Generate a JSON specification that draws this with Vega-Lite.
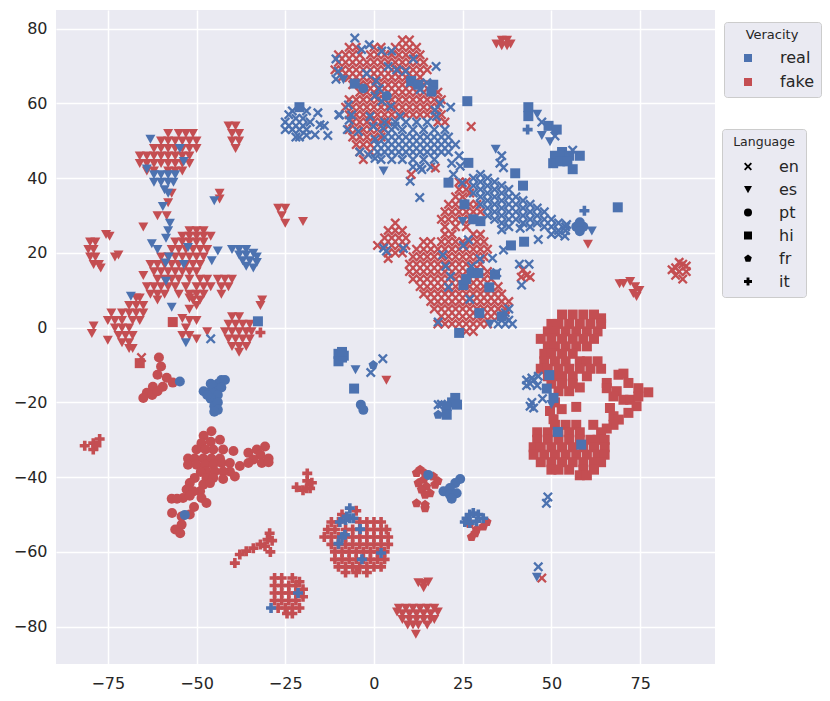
{"$schema":"https://vega.github.io/schema/vega-lite/v6.json","width":659,"height":654,"autosize":{"type":"none"},"padding":{"left":56,"top":10,"right":115,"bottom":37},"background":"white","config":{"font":"DejaVu Sans","view":{"stroke":null,"fill":"#eaeaf2"}},
"data":{"values":[
{"x":-7,"y":75,"v":"fake","l":"en"},{"x":-5,"y":75,"v":"fake","l":"en"},{"x":0,"y":75,"v":"fake","l":"en"},{"x":2,"y":75,"v":"fake","l":"en"},{"x":6,"y":75,"v":"fake","l":"en"},{"x":8,"y":77,"v":"fake","l":"en"},{"x":10,"y":77,"v":"fake","l":"en"},{"x":8,"y":75,"v":"fake","l":"en"},{"x":10,"y":75,"v":"fake","l":"en"},{"x":12,"y":75,"v":"fake","l":"en"},
{"x":-10,"y":73,"v":"fake","l":"en"},{"x":-8,"y":73,"v":"fake","l":"en"},{"x":-6,"y":73,"v":"fake","l":"en"},{"x":-4,"y":73,"v":"fake","l":"en"},{"x":-1,"y":73,"v":"fake","l":"en"},{"x":1,"y":73,"v":"fake","l":"en"},{"x":3,"y":73,"v":"fake","l":"en"},{"x":5,"y":73,"v":"fake","l":"en"},{"x":7,"y":73,"v":"fake","l":"en"},{"x":9,"y":73,"v":"fake","l":"en"},{"x":11,"y":73,"v":"fake","l":"en"},{"x":13,"y":73,"v":"fake","l":"en"},
{"x":-10,"y":71,"v":"fake","l":"en"},{"x":-8,"y":71,"v":"fake","l":"en"},{"x":-6,"y":71,"v":"fake","l":"en"},{"x":-4,"y":71,"v":"fake","l":"en"},{"x":-2,"y":71,"v":"fake","l":"en"},{"x":0,"y":71,"v":"fake","l":"en"},{"x":2,"y":71,"v":"fake","l":"en"},{"x":4,"y":71,"v":"fake","l":"en"},{"x":6,"y":71,"v":"fake","l":"en"},{"x":8,"y":71,"v":"fake","l":"en"},{"x":10,"y":71,"v":"fake","l":"en"},{"x":12,"y":71,"v":"fake","l":"en"},{"x":14,"y":71,"v":"fake","l":"en"},
{"x":-11,"y":69,"v":"fake","l":"en"},{"x":-9,"y":69,"v":"fake","l":"en"},{"x":-7,"y":69,"v":"fake","l":"en"},{"x":-5,"y":69,"v":"fake","l":"en"},{"x":-3,"y":69,"v":"fake","l":"en"},{"x":-1,"y":69,"v":"fake","l":"en"},{"x":1,"y":69,"v":"fake","l":"en"},{"x":3,"y":69,"v":"fake","l":"en"},{"x":5,"y":69,"v":"fake","l":"en"},{"x":7,"y":69,"v":"fake","l":"en"},{"x":9,"y":69,"v":"fake","l":"en"},{"x":11,"y":69,"v":"fake","l":"en"},{"x":13,"y":69,"v":"fake","l":"en"},{"x":15,"y":69,"v":"fake","l":"en"},
{"x":-9,"y":67,"v":"fake","l":"en"},{"x":-7,"y":67,"v":"fake","l":"en"},{"x":-5,"y":67,"v":"fake","l":"en"},{"x":-3,"y":67,"v":"fake","l":"en"},{"x":-1,"y":67,"v":"fake","l":"en"},{"x":1,"y":67,"v":"fake","l":"en"},{"x":3,"y":67,"v":"fake","l":"en"},{"x":5,"y":67,"v":"fake","l":"en"},{"x":7,"y":67,"v":"fake","l":"en"},{"x":9,"y":67,"v":"fake","l":"en"},{"x":11,"y":67,"v":"fake","l":"en"},{"x":13,"y":67,"v":"fake","l":"en"},
{"x":-6,"y":65,"v":"fake","l":"en"},{"x":-4,"y":65,"v":"fake","l":"en"},{"x":-2,"y":65,"v":"fake","l":"en"},{"x":0,"y":65,"v":"fake","l":"en"},{"x":2,"y":65,"v":"fake","l":"en"},{"x":4,"y":65,"v":"fake","l":"en"},{"x":6,"y":65,"v":"fake","l":"en"},{"x":8,"y":65,"v":"fake","l":"en"},{"x":10,"y":65,"v":"fake","l":"en"},{"x":12,"y":65,"v":"fake","l":"en"},{"x":14,"y":65,"v":"fake","l":"en"},
{"x":-4,"y":63,"v":"fake","l":"en"},{"x":-2,"y":63,"v":"fake","l":"en"},{"x":0,"y":63,"v":"fake","l":"en"},{"x":2,"y":63,"v":"fake","l":"en"},{"x":4,"y":63,"v":"fake","l":"en"},{"x":6,"y":63,"v":"fake","l":"en"},{"x":8,"y":63,"v":"fake","l":"en"},{"x":10,"y":63,"v":"fake","l":"en"},{"x":12,"y":63,"v":"fake","l":"en"},{"x":14,"y":63,"v":"fake","l":"en"},{"x":16,"y":63,"v":"fake","l":"en"},{"x":18,"y":63,"v":"fake","l":"en"},
{"x":-7,"y":61,"v":"fake","l":"en"},{"x":-5,"y":61,"v":"fake","l":"en"},{"x":-3,"y":61,"v":"fake","l":"en"},{"x":-1,"y":61,"v":"fake","l":"en"},{"x":1,"y":61,"v":"fake","l":"en"},{"x":3,"y":61,"v":"fake","l":"en"},{"x":5,"y":61,"v":"fake","l":"en"},{"x":7,"y":61,"v":"fake","l":"en"},{"x":9,"y":61,"v":"fake","l":"en"},{"x":11,"y":61,"v":"fake","l":"en"},{"x":13,"y":61,"v":"fake","l":"en"},{"x":15,"y":61,"v":"fake","l":"en"},{"x":17,"y":61,"v":"fake","l":"en"},{"x":19,"y":61,"v":"fake","l":"en"},
{"x":-8,"y":59,"v":"fake","l":"en"},{"x":-6,"y":59,"v":"fake","l":"en"},{"x":-4,"y":59,"v":"fake","l":"en"},{"x":-2,"y":59,"v":"fake","l":"en"},{"x":0,"y":59,"v":"fake","l":"en"},{"x":2,"y":59,"v":"fake","l":"en"},{"x":4,"y":59,"v":"fake","l":"en"},{"x":6,"y":59,"v":"fake","l":"en"},{"x":8,"y":59,"v":"fake","l":"en"},{"x":10,"y":59,"v":"fake","l":"en"},{"x":12,"y":59,"v":"fake","l":"en"},{"x":14,"y":59,"v":"fake","l":"en"},{"x":16,"y":59,"v":"fake","l":"en"},{"x":18,"y":59,"v":"fake","l":"en"},
{"x":-7,"y":57,"v":"fake","l":"en"},{"x":-5,"y":57,"v":"fake","l":"en"},{"x":-3,"y":57,"v":"fake","l":"en"},{"x":-1,"y":57,"v":"fake","l":"en"},{"x":1,"y":57,"v":"fake","l":"en"},{"x":3,"y":57,"v":"fake","l":"en"},{"x":5,"y":57,"v":"fake","l":"en"},{"x":7,"y":57,"v":"fake","l":"en"},{"x":9,"y":57,"v":"fake","l":"en"},{"x":11,"y":57,"v":"fake","l":"en"},{"x":13,"y":57,"v":"fake","l":"en"},{"x":15,"y":57,"v":"fake","l":"en"},{"x":17,"y":57,"v":"fake","l":"en"},{"x":19,"y":57,"v":"fake","l":"en"},
{"x":-6,"y":55,"v":"fake","l":"en"},{"x":-4,"y":55,"v":"fake","l":"en"},{"x":-2,"y":55,"v":"fake","l":"en"},{"x":0,"y":55,"v":"fake","l":"en"},{"x":2,"y":55,"v":"fake","l":"en"},{"x":4,"y":55,"v":"fake","l":"en"},{"x":18,"y":55,"v":"fake","l":"en"},{"x":20,"y":55,"v":"fake","l":"en"},
{"x":-7,"y":53,"v":"fake","l":"en"},{"x":-5,"y":53,"v":"fake","l":"en"},{"x":-3,"y":53,"v":"fake","l":"en"},{"x":-1,"y":53,"v":"fake","l":"en"},{"x":1,"y":53,"v":"fake","l":"en"},{"x":3,"y":53,"v":"fake","l":"en"},
{"x":-6,"y":51,"v":"fake","l":"en"},{"x":-4,"y":51,"v":"fake","l":"en"},{"x":-2,"y":51,"v":"fake","l":"en"},{"x":0,"y":51,"v":"fake","l":"en"},{"x":2,"y":51,"v":"fake","l":"en"},
{"x":-5,"y":49,"v":"fake","l":"en"},{"x":-3,"y":49,"v":"fake","l":"en"},{"x":-1,"y":49,"v":"fake","l":"en"},{"x":-4,"y":47,"v":"fake","l":"en"},{"x":-1,"y":47,"v":"fake","l":"en"},{"x":-3,"y":45,"v":"fake","l":"en"},{"x":27.4,"y":53.8,"v":"fake","l":"en"},
{"x":24,"y":39,"v":"fake","l":"en"},{"x":26,"y":39,"v":"fake","l":"en"},{"x":24,"y":37,"v":"fake","l":"en"},{"x":26,"y":37,"v":"fake","l":"en"},{"x":27,"y":36,"v":"fake","l":"en"},{"x":23,"y":35,"v":"fake","l":"en"},{"x":25,"y":35,"v":"fake","l":"en"},{"x":21,"y":33,"v":"fake","l":"en"},{"x":23,"y":33,"v":"fake","l":"en"},{"x":25,"y":33,"v":"fake","l":"en"},{"x":27,"y":33,"v":"fake","l":"en"},{"x":29,"y":33,"v":"fake","l":"en"},{"x":20,"y":31,"v":"fake","l":"en"},{"x":22,"y":31,"v":"fake","l":"en"},{"x":24,"y":31,"v":"fake","l":"en"},{"x":26,"y":31,"v":"fake","l":"en"},{"x":28,"y":31,"v":"fake","l":"en"},{"x":30,"y":31,"v":"fake","l":"en"},{"x":19,"y":29,"v":"fake","l":"en"},{"x":21,"y":29,"v":"fake","l":"en"},{"x":23,"y":29,"v":"fake","l":"en"},{"x":25,"y":29,"v":"fake","l":"en"},{"x":27,"y":29,"v":"fake","l":"en"},{"x":20,"y":27,"v":"fake","l":"en"},{"x":23,"y":27,"v":"fake","l":"en"},{"x":26,"y":27,"v":"fake","l":"en"},
{"x":6,"y":28,"v":"fake","l":"en"},{"x":4,"y":26,"v":"fake","l":"en"},{"x":6,"y":26,"v":"fake","l":"en"},{"x":8,"y":26,"v":"fake","l":"en"},{"x":3,"y":24,"v":"fake","l":"en"},{"x":5,"y":24,"v":"fake","l":"en"},{"x":7,"y":24,"v":"fake","l":"en"},{"x":9,"y":24,"v":"fake","l":"en"},{"x":1,"y":22,"v":"fake","l":"en"},{"x":3,"y":22,"v":"fake","l":"en"},{"x":5,"y":22,"v":"fake","l":"en"},{"x":7,"y":22,"v":"fake","l":"en"},{"x":9,"y":22,"v":"fake","l":"en"},{"x":4,"y":20,"v":"fake","l":"en"},{"x":6,"y":20,"v":"fake","l":"en"},{"x":8,"y":20,"v":"fake","l":"en"},{"x":4,"y":18.5,"v":"fake","l":"en"},
{"x":20,"y":25,"v":"fake","l":"en"},{"x":22,"y":25,"v":"fake","l":"en"},{"x":28,"y":25,"v":"fake","l":"en"},{"x":30,"y":25,"v":"fake","l":"en"},{"x":14,"y":23,"v":"fake","l":"en"},{"x":16,"y":23,"v":"fake","l":"en"},{"x":19,"y":23,"v":"fake","l":"en"},{"x":21,"y":23,"v":"fake","l":"en"},{"x":23,"y":23,"v":"fake","l":"en"},{"x":25,"y":23,"v":"fake","l":"en"},{"x":27,"y":23,"v":"fake","l":"en"},{"x":29,"y":23,"v":"fake","l":"en"},{"x":31,"y":23,"v":"fake","l":"en"},
{"x":12,"y":21,"v":"fake","l":"en"},{"x":14,"y":21,"v":"fake","l":"en"},{"x":16,"y":21,"v":"fake","l":"en"},{"x":18,"y":21,"v":"fake","l":"en"},{"x":20,"y":21,"v":"fake","l":"en"},{"x":22,"y":21,"v":"fake","l":"en"},{"x":24,"y":21,"v":"fake","l":"en"},{"x":26,"y":21,"v":"fake","l":"en"},{"x":28,"y":21,"v":"fake","l":"en"},{"x":30,"y":21,"v":"fake","l":"en"},{"x":32,"y":21,"v":"fake","l":"en"},
{"x":11,"y":19,"v":"fake","l":"en"},{"x":13,"y":19,"v":"fake","l":"en"},{"x":15,"y":19,"v":"fake","l":"en"},{"x":17,"y":19,"v":"fake","l":"en"},{"x":19,"y":19,"v":"fake","l":"en"},{"x":21,"y":19,"v":"fake","l":"en"},{"x":23,"y":19,"v":"fake","l":"en"},{"x":25,"y":19,"v":"fake","l":"en"},{"x":27,"y":19,"v":"fake","l":"en"},{"x":29,"y":19,"v":"fake","l":"en"},{"x":31,"y":19,"v":"fake","l":"en"},
{"x":10,"y":17,"v":"fake","l":"en"},{"x":12,"y":17,"v":"fake","l":"en"},{"x":14,"y":17,"v":"fake","l":"en"},{"x":16,"y":17,"v":"fake","l":"en"},{"x":18,"y":17,"v":"fake","l":"en"},{"x":20,"y":17,"v":"fake","l":"en"},{"x":22,"y":17,"v":"fake","l":"en"},{"x":24,"y":17,"v":"fake","l":"en"},{"x":26,"y":17,"v":"fake","l":"en"},{"x":28,"y":17,"v":"fake","l":"en"},{"x":30,"y":17,"v":"fake","l":"en"},
{"x":10,"y":15,"v":"fake","l":"en"},{"x":12,"y":15,"v":"fake","l":"en"},{"x":14,"y":15,"v":"fake","l":"en"},{"x":16,"y":15,"v":"fake","l":"en"},{"x":18,"y":15,"v":"fake","l":"en"},{"x":20,"y":15,"v":"fake","l":"en"},{"x":22,"y":15,"v":"fake","l":"en"},{"x":24,"y":15,"v":"fake","l":"en"},{"x":26,"y":15,"v":"fake","l":"en"},{"x":28,"y":15,"v":"fake","l":"en"},{"x":30,"y":15,"v":"fake","l":"en"},{"x":32,"y":15,"v":"fake","l":"en"},
{"x":11,"y":13,"v":"fake","l":"en"},{"x":13,"y":13,"v":"fake","l":"en"},{"x":15,"y":13,"v":"fake","l":"en"},{"x":17,"y":13,"v":"fake","l":"en"},{"x":19,"y":13,"v":"fake","l":"en"},{"x":21,"y":13,"v":"fake","l":"en"},{"x":23,"y":13,"v":"fake","l":"en"},{"x":25,"y":13,"v":"fake","l":"en"},{"x":27,"y":13,"v":"fake","l":"en"},{"x":29,"y":13,"v":"fake","l":"en"},{"x":31,"y":13,"v":"fake","l":"en"},{"x":33,"y":13,"v":"fake","l":"en"},
{"x":13,"y":11,"v":"fake","l":"en"},{"x":15,"y":11,"v":"fake","l":"en"},{"x":17,"y":11,"v":"fake","l":"en"},{"x":19,"y":11,"v":"fake","l":"en"},{"x":21,"y":11,"v":"fake","l":"en"},{"x":23,"y":11,"v":"fake","l":"en"},{"x":25,"y":11,"v":"fake","l":"en"},{"x":27,"y":11,"v":"fake","l":"en"},{"x":29,"y":11,"v":"fake","l":"en"},{"x":31,"y":11,"v":"fake","l":"en"},{"x":33,"y":11,"v":"fake","l":"en"},{"x":35,"y":11,"v":"fake","l":"en"},
{"x":14,"y":9,"v":"fake","l":"en"},{"x":16,"y":9,"v":"fake","l":"en"},{"x":18,"y":9,"v":"fake","l":"en"},{"x":20,"y":9,"v":"fake","l":"en"},{"x":22,"y":9,"v":"fake","l":"en"},{"x":24,"y":9,"v":"fake","l":"en"},{"x":26,"y":9,"v":"fake","l":"en"},{"x":28,"y":9,"v":"fake","l":"en"},{"x":30,"y":9,"v":"fake","l":"en"},{"x":32,"y":9,"v":"fake","l":"en"},{"x":34,"y":9,"v":"fake","l":"en"},{"x":36,"y":9,"v":"fake","l":"en"},
{"x":16,"y":7,"v":"fake","l":"en"},{"x":18,"y":7,"v":"fake","l":"en"},{"x":20,"y":7,"v":"fake","l":"en"},{"x":22,"y":7,"v":"fake","l":"en"},{"x":24,"y":7,"v":"fake","l":"en"},{"x":26,"y":7,"v":"fake","l":"en"},{"x":28,"y":7,"v":"fake","l":"en"},{"x":30,"y":7,"v":"fake","l":"en"},{"x":32,"y":7,"v":"fake","l":"en"},{"x":34,"y":7,"v":"fake","l":"en"},{"x":36,"y":7,"v":"fake","l":"en"},{"x":38,"y":7,"v":"fake","l":"en"},
{"x":17,"y":5,"v":"fake","l":"en"},{"x":19,"y":5,"v":"fake","l":"en"},{"x":21,"y":5,"v":"fake","l":"en"},{"x":23,"y":5,"v":"fake","l":"en"},{"x":25,"y":5,"v":"fake","l":"en"},{"x":27,"y":5,"v":"fake","l":"en"},{"x":29,"y":5,"v":"fake","l":"en"},{"x":31,"y":5,"v":"fake","l":"en"},{"x":33,"y":5,"v":"fake","l":"en"},{"x":35,"y":5,"v":"fake","l":"en"},{"x":37,"y":5,"v":"fake","l":"en"},
{"x":19,"y":3,"v":"fake","l":"en"},{"x":21,"y":3,"v":"fake","l":"en"},{"x":23,"y":3,"v":"fake","l":"en"},{"x":25,"y":3,"v":"fake","l":"en"},{"x":27,"y":3,"v":"fake","l":"en"},{"x":29,"y":3,"v":"fake","l":"en"},{"x":31,"y":3,"v":"fake","l":"en"},{"x":33,"y":3,"v":"fake","l":"en"},{"x":35,"y":3,"v":"fake","l":"en"},{"x":37,"y":3,"v":"fake","l":"en"},
{"x":18,"y":1,"v":"fake","l":"en"},{"x":20,"y":1,"v":"fake","l":"en"},{"x":22,"y":1,"v":"fake","l":"en"},{"x":24,"y":1,"v":"fake","l":"en"},{"x":26,"y":1,"v":"fake","l":"en"},{"x":28,"y":1,"v":"fake","l":"en"},{"x":30,"y":1,"v":"fake","l":"en"},{"x":32,"y":1,"v":"fake","l":"en"},{"x":26,"y":-1,"v":"fake","l":"en"},{"x":28,"y":-1,"v":"fake","l":"en"},
{"x":42,"y":15.5,"v":"fake","l":"en"},{"x":43,"y":14,"v":"fake","l":"en"},{"x":41.5,"y":13.5,"v":"fake","l":"en"},{"x":44,"y":13.5,"v":"fake","l":"en"},{"x":85,"y":16,"v":"fake","l":"en"},{"x":86,"y":15,"v":"fake","l":"en"},{"x":87,"y":17,"v":"fake","l":"en"},{"x":88,"y":15,"v":"fake","l":"en"},{"x":87,"y":13,"v":"fake","l":"en"},{"x":85,"y":14,"v":"fake","l":"en"},{"x":86,"y":17.5,"v":"fake","l":"en"},{"x":88,"y":16.5,"v":"fake","l":"en"},{"x":84,"y":15.5,"v":"fake","l":"en"},
{"x":53,"y":3.5,"v":"fake","l":"hi"},{"x":56,"y":3.5,"v":"fake","l":"hi"},{"x":59,"y":3.5,"v":"fake","l":"hi"},{"x":62,"y":3.5,"v":"fake","l":"hi"},{"x":64,"y":2.5,"v":"fake","l":"hi"},{"x":50,"y":1,"v":"fake","l":"hi"},{"x":52,"y":1,"v":"fake","l":"hi"},{"x":55,"y":1,"v":"fake","l":"hi"},{"x":58,"y":1,"v":"fake","l":"hi"},{"x":61,"y":1,"v":"fake","l":"hi"},{"x":64,"y":1,"v":"fake","l":"hi"},{"x":49,"y":-1,"v":"fake","l":"hi"},{"x":51,"y":-1,"v":"fake","l":"hi"},{"x":54,"y":-1,"v":"fake","l":"hi"},{"x":57,"y":-1,"v":"fake","l":"hi"},{"x":60,"y":-1,"v":"fake","l":"hi"},{"x":63,"y":-1,"v":"fake","l":"hi"},{"x":47,"y":-3,"v":"fake","l":"hi"},{"x":50,"y":-3,"v":"fake","l":"hi"},{"x":53,"y":-3,"v":"fake","l":"hi"},{"x":56,"y":-3,"v":"fake","l":"hi"},{"x":59,"y":-3,"v":"fake","l":"hi"},{"x":62,"y":-3,"v":"fake","l":"hi"},{"x":49,"y":-5,"v":"fake","l":"hi"},{"x":51,"y":-5,"v":"fake","l":"hi"},{"x":54,"y":-5,"v":"fake","l":"hi"},{"x":57,"y":-5,"v":"fake","l":"hi"},{"x":60,"y":-5,"v":"fake","l":"hi"},{"x":48,"y":-7,"v":"fake","l":"hi"},{"x":50,"y":-7,"v":"fake","l":"hi"},{"x":53,"y":-7,"v":"fake","l":"hi"},{"x":56,"y":-7,"v":"fake","l":"hi"},{"x":48,"y":-9,"v":"fake","l":"hi"},{"x":51,"y":-9,"v":"fake","l":"hi"},{"x":54,"y":-9,"v":"fake","l":"hi"},{"x":58,"y":-9,"v":"fake","l":"hi"},{"x":60,"y":-9,"v":"fake","l":"hi"},{"x":63,"y":-9,"v":"fake","l":"hi"},{"x":47,"y":-11,"v":"fake","l":"hi"},{"x":49,"y":-11,"v":"fake","l":"hi"},{"x":52,"y":-11,"v":"fake","l":"hi"},{"x":55,"y":-11,"v":"fake","l":"hi"},{"x":58,"y":-11,"v":"fake","l":"hi"},{"x":61,"y":-11,"v":"fake","l":"hi"},{"x":64,"y":-11,"v":"fake","l":"hi"},{"x":49,"y":-13,"v":"fake","l":"hi"},{"x":51,"y":-13,"v":"fake","l":"hi"},{"x":53,"y":-13,"v":"fake","l":"hi"},{"x":56,"y":-13,"v":"fake","l":"hi"},{"x":60,"y":-13,"v":"fake","l":"hi"},{"x":50,"y":-15,"v":"fake","l":"hi"},{"x":53,"y":-15,"v":"fake","l":"hi"},{"x":56,"y":-15,"v":"fake","l":"hi"},{"x":52,"y":-17,"v":"fake","l":"hi"},{"x":55,"y":-17,"v":"fake","l":"hi"},{"x":58,"y":-16,"v":"fake","l":"hi"},
{"x":68.9,"y":-12.6,"v":"fake","l":"hi"},{"x":65.6,"y":-14.8,"v":"fake","l":"hi"},{"x":70.3,"y":-12.3,"v":"fake","l":"hi"},{"x":71.7,"y":-14.8,"v":"fake","l":"hi"},{"x":65.6,"y":-16.2,"v":"fake","l":"hi"},{"x":68.4,"y":-17,"v":"fake","l":"hi"},{"x":67.5,"y":-18.4,"v":"fake","l":"hi"},{"x":70.3,"y":-19.3,"v":"fake","l":"hi"},{"x":72.2,"y":-19.3,"v":"fake","l":"hi"},{"x":74.5,"y":-16.2,"v":"fake","l":"hi"},{"x":74.5,"y":-18.4,"v":"fake","l":"hi"},{"x":77.3,"y":-17.3,"v":"fake","l":"hi"},{"x":74,"y":-21,"v":"fake","l":"hi"},{"x":71.7,"y":-22.8,"v":"fake","l":"hi"},{"x":66.5,"y":-21.5,"v":"fake","l":"hi"},{"x":67.5,"y":-23.7,"v":"fake","l":"hi"},{"x":69,"y":-24.6,"v":"fake","l":"hi"},{"x":67.5,"y":-26,"v":"fake","l":"hi"},{"x":65.6,"y":-27,"v":"fake","l":"hi"},{"x":61.8,"y":-26,"v":"fake","l":"hi"},{"x":57,"y":-21.2,"v":"fake","l":"hi"},{"x":52.9,"y":-21.8,"v":"fake","l":"hi"},{"x":51,"y":-20,"v":"fake","l":"hi"},{"x":49.6,"y":-22.3,"v":"fake","l":"hi"},{"x":50.6,"y":-24.5,"v":"fake","l":"hi"},
{"x":51,"y":-26,"v":"fake","l":"hi"},{"x":54,"y":-26,"v":"fake","l":"hi"},{"x":57,"y":-26,"v":"fake","l":"hi"},{"x":46,"y":-28,"v":"fake","l":"hi"},{"x":49,"y":-28,"v":"fake","l":"hi"},{"x":52,"y":-28,"v":"fake","l":"hi"},{"x":55,"y":-28,"v":"fake","l":"hi"},{"x":58,"y":-28,"v":"fake","l":"hi"},{"x":64,"y":-28,"v":"fake","l":"hi"},{"x":46,"y":-30,"v":"fake","l":"hi"},{"x":49,"y":-30,"v":"fake","l":"hi"},{"x":52,"y":-30,"v":"fake","l":"hi"},{"x":55,"y":-30,"v":"fake","l":"hi"},{"x":58,"y":-30,"v":"fake","l":"hi"},{"x":61,"y":-30,"v":"fake","l":"hi"},{"x":63,"y":-30,"v":"fake","l":"hi"},{"x":65,"y":-30,"v":"fake","l":"hi"},{"x":45,"y":-32,"v":"fake","l":"hi"},{"x":47,"y":-32,"v":"fake","l":"hi"},{"x":50,"y":-32,"v":"fake","l":"hi"},{"x":53,"y":-32,"v":"fake","l":"hi"},{"x":56,"y":-32,"v":"fake","l":"hi"},{"x":59,"y":-32,"v":"fake","l":"hi"},{"x":62,"y":-32,"v":"fake","l":"hi"},{"x":65,"y":-32,"v":"fake","l":"hi"},{"x":45,"y":-34,"v":"fake","l":"hi"},{"x":48,"y":-34,"v":"fake","l":"hi"},{"x":51,"y":-34,"v":"fake","l":"hi"},{"x":54,"y":-34,"v":"fake","l":"hi"},{"x":57,"y":-34,"v":"fake","l":"hi"},{"x":60,"y":-34,"v":"fake","l":"hi"},{"x":63,"y":-34,"v":"fake","l":"hi"},{"x":65,"y":-34,"v":"fake","l":"hi"},{"x":47,"y":-36,"v":"fake","l":"hi"},{"x":50,"y":-36,"v":"fake","l":"hi"},{"x":53,"y":-36,"v":"fake","l":"hi"},{"x":56,"y":-36,"v":"fake","l":"hi"},{"x":59,"y":-36,"v":"fake","l":"hi"},{"x":62,"y":-36,"v":"fake","l":"hi"},{"x":64,"y":-36,"v":"fake","l":"hi"},{"x":50,"y":-38,"v":"fake","l":"hi"},{"x":52,"y":-38,"v":"fake","l":"hi"},{"x":55,"y":-38,"v":"fake","l":"hi"},{"x":59,"y":-38,"v":"fake","l":"hi"},{"x":62,"y":-38,"v":"fake","l":"hi"},{"x":58,"y":-39.5,"v":"fake","l":"hi"},{"x":60,"y":-39.5,"v":"fake","l":"hi"},
{"x":70.3,"y":11.9,"v":"fake","l":"es"},{"x":72.2,"y":12.4,"v":"fake","l":"es"},{"x":73.6,"y":11,"v":"fake","l":"es"},{"x":73.1,"y":9.2,"v":"fake","l":"es"},{"x":74,"y":8.4,"v":"fake","l":"es"},{"x":74.8,"y":10,"v":"fake","l":"es"},{"x":69.2,"y":11.8,"v":"fake","l":"es"},{"x":34.5,"y":76,"v":"fake","l":"es"},{"x":36,"y":77,"v":"fake","l":"es"},{"x":37.5,"y":77,"v":"fake","l":"es"},{"x":38.5,"y":76,"v":"fake","l":"es"},{"x":36,"y":75.5,"v":"fake","l":"es"},{"x":37.5,"y":75.5,"v":"fake","l":"es"},{"x":60.3,"y":22.4,"v":"fake","l":"es"},{"x":3.5,"y":-14,"v":"fake","l":"es"},
{"x":-27,"y":32,"v":"fake","l":"es"},{"x":-25,"y":32,"v":"fake","l":"es"},{"x":-26,"y":30,"v":"fake","l":"es"},{"x":-25,"y":28,"v":"fake","l":"es"},{"x":-20,"y":28.5,"v":"fake","l":"es"},{"x":-41,"y":54,"v":"fake","l":"es"},{"x":-39,"y":54,"v":"fake","l":"es"},{"x":-40,"y":52,"v":"fake","l":"es"},{"x":-38,"y":52,"v":"fake","l":"es"},{"x":-40,"y":50,"v":"fake","l":"es"},{"x":-38,"y":50,"v":"fake","l":"es"},{"x":-39,"y":48,"v":"fake","l":"es"},
{"x":-58,"y":52,"v":"fake","l":"es"},{"x":-55,"y":52,"v":"fake","l":"es"},{"x":-53,"y":52,"v":"fake","l":"es"},{"x":-51,"y":52,"v":"fake","l":"es"},{"x":-60,"y":50,"v":"fake","l":"es"},{"x":-58,"y":50,"v":"fake","l":"es"},{"x":-56,"y":50,"v":"fake","l":"es"},{"x":-54,"y":50,"v":"fake","l":"es"},{"x":-52,"y":50,"v":"fake","l":"es"},{"x":-50,"y":50,"v":"fake","l":"es"},{"x":-62,"y":48,"v":"fake","l":"es"},{"x":-60,"y":48,"v":"fake","l":"es"},{"x":-58,"y":48,"v":"fake","l":"es"},{"x":-56,"y":48,"v":"fake","l":"es"},{"x":-54,"y":48,"v":"fake","l":"es"},{"x":-52,"y":48,"v":"fake","l":"es"},{"x":-50,"y":48,"v":"fake","l":"es"},{"x":-66,"y":46,"v":"fake","l":"es"},{"x":-64,"y":46,"v":"fake","l":"es"},{"x":-62,"y":46,"v":"fake","l":"es"},{"x":-60,"y":46,"v":"fake","l":"es"},{"x":-58,"y":46,"v":"fake","l":"es"},{"x":-56,"y":46,"v":"fake","l":"es"},{"x":-54,"y":46,"v":"fake","l":"es"},{"x":-52,"y":46,"v":"fake","l":"es"},{"x":-66,"y":44,"v":"fake","l":"es"},{"x":-64,"y":44,"v":"fake","l":"es"},{"x":-62,"y":44,"v":"fake","l":"es"},{"x":-60,"y":44,"v":"fake","l":"es"},{"x":-58,"y":44,"v":"fake","l":"es"},{"x":-56,"y":44,"v":"fake","l":"es"},{"x":-54,"y":44,"v":"fake","l":"es"},{"x":-52,"y":44,"v":"fake","l":"es"},{"x":-64,"y":42,"v":"fake","l":"es"},{"x":-62,"y":42,"v":"fake","l":"es"},{"x":-58,"y":42,"v":"fake","l":"es"},{"x":-56,"y":42,"v":"fake","l":"es"},{"x":-54,"y":42,"v":"fake","l":"es"},{"x":-43.5,"y":36,"v":"fake","l":"es"},{"x":-43.5,"y":34.5,"v":"fake","l":"es"},{"x":-57,"y":36,"v":"fake","l":"es"},{"x":-58,"y":33.5,"v":"fake","l":"es"},{"x":-61,"y":30,"v":"fake","l":"es"},{"x":-58.4,"y":30,"v":"fake","l":"es"},{"x":-65,"y":27,"v":"fake","l":"es"},
{"x":-52,"y":26,"v":"fake","l":"es"},{"x":-50,"y":26,"v":"fake","l":"es"},{"x":-48,"y":26,"v":"fake","l":"es"},{"x":-54,"y":24.5,"v":"fake","l":"es"},{"x":-52,"y":24.5,"v":"fake","l":"es"},{"x":-50,"y":24.5,"v":"fake","l":"es"},{"x":-48,"y":24.5,"v":"fake","l":"es"},{"x":-46,"y":24.5,"v":"fake","l":"es"},{"x":-56,"y":23,"v":"fake","l":"es"},{"x":-54,"y":23,"v":"fake","l":"es"},{"x":-52,"y":23,"v":"fake","l":"es"},{"x":-50,"y":23,"v":"fake","l":"es"},{"x":-48,"y":23,"v":"fake","l":"es"},{"x":-57,"y":21,"v":"fake","l":"es"},{"x":-55,"y":21,"v":"fake","l":"es"},{"x":-53,"y":21,"v":"fake","l":"es"},{"x":-51,"y":21,"v":"fake","l":"es"},{"x":-49,"y":21,"v":"fake","l":"es"},{"x":-47,"y":21,"v":"fake","l":"es"},{"x":-60,"y":19,"v":"fake","l":"es"},{"x":-58,"y":19,"v":"fake","l":"es"},{"x":-56,"y":19,"v":"fake","l":"es"},{"x":-54,"y":19,"v":"fake","l":"es"},{"x":-52,"y":19,"v":"fake","l":"es"},{"x":-50,"y":19,"v":"fake","l":"es"},{"x":-48,"y":19,"v":"fake","l":"es"},{"x":-63,"y":17,"v":"fake","l":"es"},{"x":-61,"y":17,"v":"fake","l":"es"},{"x":-59,"y":17,"v":"fake","l":"es"},{"x":-57,"y":17,"v":"fake","l":"es"},{"x":-55,"y":17,"v":"fake","l":"es"},{"x":-53,"y":17,"v":"fake","l":"es"},{"x":-51,"y":17,"v":"fake","l":"es"},{"x":-49,"y":17,"v":"fake","l":"es"},{"x":-62,"y":15,"v":"fake","l":"es"},{"x":-60,"y":15,"v":"fake","l":"es"},{"x":-58,"y":15,"v":"fake","l":"es"},{"x":-56,"y":15,"v":"fake","l":"es"},{"x":-54,"y":15,"v":"fake","l":"es"},{"x":-52,"y":15,"v":"fake","l":"es"},{"x":-50,"y":15,"v":"fake","l":"es"},{"x":-65,"y":14,"v":"fake","l":"es"},{"x":-61,"y":13,"v":"fake","l":"es"},{"x":-59,"y":13,"v":"fake","l":"es"},{"x":-57,"y":13,"v":"fake","l":"es"},{"x":-55,"y":13,"v":"fake","l":"es"},{"x":-52,"y":13,"v":"fake","l":"es"},{"x":-49,"y":13,"v":"fake","l":"es"},{"x":-47,"y":13,"v":"fake","l":"es"},{"x":-64,"y":11,"v":"fake","l":"es"},{"x":-62,"y":11,"v":"fake","l":"es"},{"x":-60,"y":11,"v":"fake","l":"es"},{"x":-58,"y":11,"v":"fake","l":"es"},{"x":-56,"y":11,"v":"fake","l":"es"},{"x":-53,"y":11,"v":"fake","l":"es"},{"x":-50,"y":11,"v":"fake","l":"es"},{"x":-48,"y":11,"v":"fake","l":"es"},{"x":-46,"y":11,"v":"fake","l":"es"},{"x":-63,"y":9,"v":"fake","l":"es"},{"x":-61,"y":9,"v":"fake","l":"es"},{"x":-59,"y":9,"v":"fake","l":"es"},{"x":-55,"y":9,"v":"fake","l":"es"},{"x":-52,"y":9,"v":"fake","l":"es"},{"x":-50,"y":9,"v":"fake","l":"es"},{"x":-48,"y":9,"v":"fake","l":"es"},{"x":-61,"y":7.5,"v":"fake","l":"es"},{"x":-51,"y":7.5,"v":"fake","l":"es"},{"x":-49,"y":7.5,"v":"fake","l":"es"},
{"x":-44,"y":13,"v":"fake","l":"es"},{"x":-42,"y":13,"v":"fake","l":"es"},{"x":-40,"y":13,"v":"fake","l":"es"},{"x":-43,"y":11,"v":"fake","l":"es"},{"x":-41,"y":11,"v":"fake","l":"es"},{"x":-43,"y":9,"v":"fake","l":"es"},{"x":-31.5,"y":7.5,"v":"fake","l":"es"},{"x":-32,"y":6,"v":"fake","l":"es"},
{"x":-67,"y":8,"v":"fake","l":"es"},{"x":-66,"y":8,"v":"fake","l":"es"},{"x":-69,"y":6,"v":"fake","l":"es"},{"x":-67,"y":6,"v":"fake","l":"es"},{"x":-65,"y":6,"v":"fake","l":"es"},{"x":-74,"y":4,"v":"fake","l":"es"},{"x":-71,"y":4,"v":"fake","l":"es"},{"x":-69,"y":4,"v":"fake","l":"es"},{"x":-67,"y":4,"v":"fake","l":"es"},{"x":-65,"y":4,"v":"fake","l":"es"},{"x":-75,"y":2,"v":"fake","l":"es"},{"x":-73,"y":2,"v":"fake","l":"es"},{"x":-71,"y":2,"v":"fake","l":"es"},{"x":-68,"y":2,"v":"fake","l":"es"},{"x":-66,"y":2,"v":"fake","l":"es"},{"x":-73,"y":0,"v":"fake","l":"es"},{"x":-71,"y":0,"v":"fake","l":"es"},{"x":-69,"y":0,"v":"fake","l":"es"},{"x":-72,"y":-2,"v":"fake","l":"es"},{"x":-70,"y":-2,"v":"fake","l":"es"},{"x":-68,"y":-2,"v":"fake","l":"es"},{"x":-71,"y":-4,"v":"fake","l":"es"},{"x":-69,"y":-4,"v":"fake","l":"es"},{"x":-69,"y":-5.5,"v":"fake","l":"es"},{"x":-68,"y":-5.5,"v":"fake","l":"es"},{"x":-79,"y":0.5,"v":"fake","l":"es"},{"x":-79.5,"y":-1.5,"v":"fake","l":"es"},{"x":-75,"y":-3.3,"v":"fake","l":"es"},
{"x":-80,"y":23,"v":"fake","l":"es"},{"x":-78.5,"y":23,"v":"fake","l":"es"},{"x":-80.5,"y":21,"v":"fake","l":"es"},{"x":-79,"y":21,"v":"fake","l":"es"},{"x":-80,"y":19,"v":"fake","l":"es"},{"x":-78.5,"y":19,"v":"fake","l":"es"},{"x":-79,"y":17,"v":"fake","l":"es"},{"x":-77.5,"y":17,"v":"fake","l":"es"},{"x":-77,"y":16,"v":"fake","l":"es"},{"x":-75.5,"y":25,"v":"fake","l":"es"},{"x":-74.5,"y":24.5,"v":"fake","l":"es"},{"x":-73,"y":19,"v":"fake","l":"es"},{"x":-72,"y":19.5,"v":"fake","l":"es"},
{"x":-52,"y":8,"v":"fake","l":"es"},{"x":-50,"y":6,"v":"fake","l":"es"},{"x":-52,"y":5,"v":"fake","l":"es"},{"x":-54,"y":2.5,"v":"fake","l":"es"},{"x":-52,"y":2,"v":"fake","l":"es"},{"x":-50,"y":2,"v":"fake","l":"es"},{"x":-53,"y":0,"v":"fake","l":"es"},{"x":-54,"y":-2,"v":"fake","l":"es"},{"x":-52,"y":-2,"v":"fake","l":"es"},{"x":-50,"y":-3,"v":"fake","l":"es"},{"x":-47,"y":-1,"v":"fake","l":"es"},{"x":-56.7,"y":1.5,"v":"fake","l":"hi"},
{"x":-40,"y":3,"v":"fake","l":"es"},{"x":-38,"y":3,"v":"fake","l":"es"},{"x":-41,"y":1,"v":"fake","l":"es"},{"x":-39,"y":1,"v":"fake","l":"es"},{"x":-37,"y":1,"v":"fake","l":"es"},{"x":-35,"y":1,"v":"fake","l":"es"},{"x":-42,"y":-1,"v":"fake","l":"es"},{"x":-40,"y":-1,"v":"fake","l":"es"},{"x":-38,"y":-1,"v":"fake","l":"es"},{"x":-36,"y":-1,"v":"fake","l":"es"},{"x":-34.5,"y":-1,"v":"fake","l":"es"},{"x":-41,"y":-3,"v":"fake","l":"es"},{"x":-39,"y":-3,"v":"fake","l":"es"},{"x":-37,"y":-3,"v":"fake","l":"es"},{"x":-35,"y":-3,"v":"fake","l":"es"},{"x":-40,"y":-5,"v":"fake","l":"es"},{"x":-38,"y":-5,"v":"fake","l":"es"},{"x":-36,"y":-5,"v":"fake","l":"es"},{"x":-38,"y":-6.5,"v":"fake","l":"es"},{"x":-32,"y":-1.3,"v":"fake","l":"it"},
{"x":-60.6,"y":-8,"v":"fake","l":"pt"},{"x":-60,"y":-10.4,"v":"fake","l":"pt"},{"x":-61,"y":-12.6,"v":"fake","l":"pt"},{"x":-58.4,"y":-13.4,"v":"fake","l":"pt"},{"x":-56.7,"y":-14.7,"v":"fake","l":"pt"},{"x":-59.5,"y":-15.8,"v":"fake","l":"pt"},{"x":-62.3,"y":-15.8,"v":"fake","l":"pt"},{"x":-64,"y":-17.4,"v":"fake","l":"pt"},{"x":-62.5,"y":-18,"v":"fake","l":"pt"},{"x":-61,"y":-17,"v":"fake","l":"pt"},{"x":-65,"y":-18.8,"v":"fake","l":"pt"},{"x":-66,"y":-9.5,"v":"fake","l":"hi"},{"x":-65.5,"y":-8,"v":"fake","l":"en"},
{"x":-45.8,"y":-27.7,"v":"fake","l":"pt"},{"x":-48,"y":-28.9,"v":"fake","l":"pt"},{"x":-43.4,"y":-30,"v":"fake","l":"pt"},{"x":-48.6,"y":-30.9,"v":"fake","l":"pt"},{"x":-46,"y":-30.5,"v":"fake","l":"pt"},{"x":-50,"y":-32.6,"v":"fake","l":"pt"},{"x":-45.3,"y":-32.6,"v":"fake","l":"pt"},{"x":-47.5,"y":-32.6,"v":"fake","l":"pt"},{"x":-42.5,"y":-32.6,"v":"fake","l":"pt"},{"x":-39.6,"y":-33,"v":"fake","l":"pt"},{"x":-52.4,"y":-35,"v":"fake","l":"pt"},{"x":-50.5,"y":-35,"v":"fake","l":"pt"},{"x":-48.1,"y":-35,"v":"fake","l":"pt"},{"x":-45.8,"y":-35,"v":"fake","l":"pt"},{"x":-43.4,"y":-35,"v":"fake","l":"pt"},{"x":-52.4,"y":-36.7,"v":"fake","l":"pt"},{"x":-50,"y":-36.7,"v":"fake","l":"pt"},{"x":-47.6,"y":-36.7,"v":"fake","l":"pt"},{"x":-45.3,"y":-36.7,"v":"fake","l":"pt"},{"x":-42.9,"y":-36.2,"v":"fake","l":"pt"},{"x":-40.6,"y":-36.2,"v":"fake","l":"pt"},{"x":-37.8,"y":-37,"v":"fake","l":"pt"},{"x":-47.2,"y":-38.5,"v":"fake","l":"pt"},{"x":-44.8,"y":-38.5,"v":"fake","l":"pt"},{"x":-40.6,"y":-38.5,"v":"fake","l":"pt"},{"x":-42.5,"y":-38.5,"v":"fake","l":"pt"},{"x":-50.5,"y":-40.2,"v":"fake","l":"pt"},{"x":-48.8,"y":-38.6,"v":"fake","l":"pt"},{"x":-47.2,"y":-40.2,"v":"fake","l":"pt"},{"x":-45.3,"y":-40.2,"v":"fake","l":"pt"},{"x":-42.5,"y":-40.5,"v":"fake","l":"pt"},{"x":-39.2,"y":-39.8,"v":"fake","l":"pt"},{"x":-51.9,"y":-41.6,"v":"fake","l":"pt"},{"x":-48.1,"y":-42,"v":"fake","l":"pt"},{"x":-46.2,"y":-41.6,"v":"fake","l":"pt"},{"x":-52.8,"y":-43.3,"v":"fake","l":"pt"},{"x":-49,"y":-43.8,"v":"fake","l":"pt"},{"x":-50.9,"y":-43.8,"v":"fake","l":"pt"},{"x":-53.8,"y":-45.6,"v":"fake","l":"pt"},{"x":-51.9,"y":-45,"v":"fake","l":"pt"},{"x":-48.6,"y":-45.6,"v":"fake","l":"pt"},{"x":-47.2,"y":-46.9,"v":"fake","l":"pt"},{"x":-57,"y":-45.8,"v":"fake","l":"pt"},{"x":-55.5,"y":-45.8,"v":"fake","l":"pt"},{"x":-50.7,"y":-48,"v":"fake","l":"pt"},{"x":-51.9,"y":-50,"v":"fake","l":"pt"},{"x":-56.9,"y":-49.6,"v":"fake","l":"pt"},{"x":-54.2,"y":-50.5,"v":"fake","l":"pt"},{"x":-54.2,"y":-52.7,"v":"fake","l":"pt"},{"x":-56,"y":-54,"v":"fake","l":"pt"},{"x":-54.6,"y":-55,"v":"fake","l":"pt"},
{"x":-30.7,"y":-31.8,"v":"fake","l":"pt"},{"x":-33,"y":-32.6,"v":"fake","l":"pt"},{"x":-35.4,"y":-33.5,"v":"fake","l":"pt"},{"x":-32,"y":-34,"v":"fake","l":"pt"},{"x":-29.7,"y":-35,"v":"fake","l":"pt"},{"x":-34,"y":-35.3,"v":"fake","l":"pt"},{"x":-31.6,"y":-36.2,"v":"fake","l":"pt"},{"x":-35.4,"y":-36.2,"v":"fake","l":"pt"},{"x":-29.7,"y":-36,"v":"fake","l":"pt"},
{"x":-81.5,"y":-31.6,"v":"fake","l":"it"},{"x":-79.1,"y":-30.9,"v":"fake","l":"it"},{"x":-77.3,"y":-29.8,"v":"fake","l":"it"},{"x":-79.1,"y":-32.6,"v":"fake","l":"it"},{"x":-78.2,"y":-31.6,"v":"fake","l":"it"},
{"x":-39.2,"y":-63,"v":"fake","l":"it"},{"x":-37.8,"y":-60.7,"v":"fake","l":"it"},{"x":-36,"y":-59.8,"v":"fake","l":"it"},{"x":-34,"y":-59,"v":"fake","l":"it"},{"x":-32,"y":-58,"v":"fake","l":"it"},{"x":-30.7,"y":-58.5,"v":"fake","l":"it"},{"x":-30,"y":-56.7,"v":"fake","l":"it"},{"x":-29.4,"y":-55,"v":"fake","l":"it"},{"x":-28.7,"y":-57,"v":"fake","l":"it"},{"x":-29.2,"y":-60,"v":"fake","l":"it"},
{"x":-18.8,"y":-39,"v":"fake","l":"it"},{"x":-18.8,"y":-41,"v":"fake","l":"it"},{"x":-21.8,"y":-42.7,"v":"fake","l":"it"},{"x":-20,"y":-43.5,"v":"fake","l":"it"},{"x":-18,"y":-43,"v":"fake","l":"it"},{"x":-17.5,"y":-41.5,"v":"fake","l":"it"},{"x":-19,"y":-43,"v":"fake","l":"it"},
{"x":-28,"y":-67,"v":"fake","l":"it"},{"x":-26,"y":-67,"v":"fake","l":"it"},{"x":-23,"y":-67,"v":"fake","l":"it"},{"x":-21,"y":-68,"v":"fake","l":"it"},{"x":-28,"y":-69,"v":"fake","l":"it"},{"x":-26,"y":-69,"v":"fake","l":"it"},{"x":-24,"y":-69,"v":"fake","l":"it"},{"x":-22,"y":-69,"v":"fake","l":"it"},{"x":-20,"y":-70,"v":"fake","l":"it"},{"x":-28,"y":-71,"v":"fake","l":"it"},{"x":-26,"y":-71,"v":"fake","l":"it"},{"x":-24,"y":-71,"v":"fake","l":"it"},{"x":-22,"y":-71,"v":"fake","l":"it"},{"x":-20,"y":-72,"v":"fake","l":"it"},{"x":-28,"y":-73,"v":"fake","l":"it"},{"x":-26,"y":-73,"v":"fake","l":"it"},{"x":-24,"y":-73,"v":"fake","l":"it"},{"x":-22,"y":-73,"v":"fake","l":"it"},{"x":-27,"y":-75,"v":"fake","l":"it"},{"x":-25,"y":-75,"v":"fake","l":"it"},{"x":-23,"y":-75,"v":"fake","l":"it"},{"x":-21,"y":-75,"v":"fake","l":"it"},{"x":-24.5,"y":-76.5,"v":"fake","l":"it"},{"x":-23,"y":-76.5,"v":"fake","l":"it"},
{"x":-9,"y":-50,"v":"fake","l":"it"},{"x":-5,"y":-49,"v":"fake","l":"it"},{"x":-12,"y":-52,"v":"fake","l":"it"},{"x":-10,"y":-52,"v":"fake","l":"it"},{"x":-4,"y":-52,"v":"fake","l":"it"},{"x":-2,"y":-52,"v":"fake","l":"it"},{"x":0,"y":-52,"v":"fake","l":"it"},{"x":2,"y":-52,"v":"fake","l":"it"},{"x":-13,"y":-54,"v":"fake","l":"it"},{"x":-11,"y":-54,"v":"fake","l":"it"},{"x":-8,"y":-54,"v":"fake","l":"it"},{"x":-6,"y":-54,"v":"fake","l":"it"},{"x":-4,"y":-54,"v":"fake","l":"it"},{"x":-2,"y":-54,"v":"fake","l":"it"},{"x":0,"y":-54,"v":"fake","l":"it"},{"x":2,"y":-54,"v":"fake","l":"it"},{"x":3.5,"y":-54,"v":"fake","l":"it"},{"x":-14,"y":-56,"v":"fake","l":"it"},{"x":-12,"y":-56,"v":"fake","l":"it"},{"x":-10,"y":-56,"v":"fake","l":"it"},{"x":-8,"y":-56,"v":"fake","l":"it"},{"x":-6,"y":-56,"v":"fake","l":"it"},{"x":-4,"y":-56,"v":"fake","l":"it"},{"x":-2,"y":-56,"v":"fake","l":"it"},{"x":0,"y":-56,"v":"fake","l":"it"},{"x":2,"y":-56,"v":"fake","l":"it"},{"x":4,"y":-56,"v":"fake","l":"it"},{"x":-12,"y":-58,"v":"fake","l":"it"},{"x":-10,"y":-58,"v":"fake","l":"it"},{"x":-8,"y":-58,"v":"fake","l":"it"},{"x":-6,"y":-58,"v":"fake","l":"it"},{"x":-4,"y":-58,"v":"fake","l":"it"},{"x":-2,"y":-58,"v":"fake","l":"it"},{"x":0,"y":-58,"v":"fake","l":"it"},{"x":2,"y":-58,"v":"fake","l":"it"},{"x":4,"y":-58,"v":"fake","l":"it"},{"x":-11,"y":-60,"v":"fake","l":"it"},{"x":-9,"y":-60,"v":"fake","l":"it"},{"x":-7,"y":-60,"v":"fake","l":"it"},{"x":-5,"y":-60,"v":"fake","l":"it"},{"x":-3,"y":-60,"v":"fake","l":"it"},{"x":-1,"y":-60,"v":"fake","l":"it"},{"x":1,"y":-60,"v":"fake","l":"it"},{"x":3,"y":-60,"v":"fake","l":"it"},{"x":-11,"y":-62,"v":"fake","l":"it"},{"x":-9,"y":-62,"v":"fake","l":"it"},{"x":-7,"y":-62,"v":"fake","l":"it"},{"x":-5,"y":-62,"v":"fake","l":"it"},{"x":-3,"y":-62,"v":"fake","l":"it"},{"x":-1,"y":-62,"v":"fake","l":"it"},{"x":1,"y":-62,"v":"fake","l":"it"},{"x":3,"y":-62,"v":"fake","l":"it"},{"x":-10,"y":-64,"v":"fake","l":"it"},{"x":-8,"y":-64,"v":"fake","l":"it"},{"x":-6,"y":-64,"v":"fake","l":"it"},{"x":-4,"y":-64,"v":"fake","l":"it"},{"x":-2,"y":-64,"v":"fake","l":"it"},{"x":0,"y":-64,"v":"fake","l":"it"},{"x":2,"y":-64,"v":"fake","l":"it"},{"x":-8,"y":-65.5,"v":"fake","l":"it"},{"x":-5,"y":-65.5,"v":"fake","l":"it"},{"x":-2,"y":-65.5,"v":"fake","l":"it"},
{"x":13,"y":-38,"v":"fake","l":"fr"},{"x":12,"y":-38.9,"v":"fake","l":"fr"},{"x":14.4,"y":-39,"v":"fake","l":"fr"},{"x":14,"y":-40.7,"v":"fake","l":"fr"},{"x":16.7,"y":-39.8,"v":"fake","l":"fr"},{"x":12.5,"y":-41.6,"v":"fake","l":"fr"},{"x":14.8,"y":-42.5,"v":"fake","l":"fr"},{"x":17.2,"y":-42,"v":"fake","l":"fr"},{"x":13.4,"y":-43.3,"v":"fake","l":"fr"},{"x":15.8,"y":-44.3,"v":"fake","l":"fr"},{"x":14.4,"y":-44.7,"v":"fake","l":"fr"},{"x":18,"y":-41,"v":"fake","l":"fr"},{"x":12,"y":-47,"v":"fake","l":"fr"},{"x":14.4,"y":-47.4,"v":"fake","l":"fr"},{"x":14.4,"y":-48.3,"v":"fake","l":"fr"},
{"x":27,"y":-52.5,"v":"fake","l":"fr"},{"x":28.9,"y":-54,"v":"fake","l":"fr"},{"x":30.8,"y":-53.2,"v":"fake","l":"fr"},{"x":31.8,"y":-52,"v":"fake","l":"fr"},{"x":27.5,"y":-56,"v":"fake","l":"fr"},{"x":28.5,"y":-55,"v":"fake","l":"fr"},
{"x":12.5,"y":-68.2,"v":"fake","l":"es"},{"x":14,"y":-68.4,"v":"fake","l":"es"},{"x":15.3,"y":-68,"v":"fake","l":"es"},{"x":14,"y":-69.5,"v":"fake","l":"es"},{"x":7,"y":-75,"v":"fake","l":"es"},{"x":9,"y":-75,"v":"fake","l":"es"},{"x":11,"y":-75,"v":"fake","l":"es"},{"x":13,"y":-75,"v":"fake","l":"es"},{"x":15,"y":-75,"v":"fake","l":"es"},{"x":17,"y":-75,"v":"fake","l":"es"},{"x":6.5,"y":-76,"v":"fake","l":"es"},{"x":8,"y":-76.5,"v":"fake","l":"es"},{"x":10,"y":-76.5,"v":"fake","l":"es"},{"x":12,"y":-76.5,"v":"fake","l":"es"},{"x":14,"y":-76.5,"v":"fake","l":"es"},{"x":16,"y":-76.5,"v":"fake","l":"es"},{"x":18,"y":-76,"v":"fake","l":"es"},{"x":8,"y":-78,"v":"fake","l":"es"},{"x":10,"y":-78,"v":"fake","l":"es"},{"x":12,"y":-78,"v":"fake","l":"es"},{"x":14,"y":-78,"v":"fake","l":"es"},{"x":16,"y":-78,"v":"fake","l":"es"},{"x":17,"y":-78,"v":"fake","l":"es"},{"x":9.5,"y":-79.5,"v":"fake","l":"es"},{"x":11,"y":-79.5,"v":"fake","l":"es"},{"x":12.5,"y":-79.5,"v":"fake","l":"es"},{"x":15,"y":-79.5,"v":"fake","l":"es"},{"x":11.8,"y":-82,"v":"fake","l":"es"},{"x":47.3,"y":-67,"v":"fake","l":"en"},
{"x":3,"y":55,"v":"real","l":"en"},{"x":6,"y":55,"v":"real","l":"en"},{"x":9,"y":55,"v":"real","l":"en"},{"x":12,"y":55,"v":"real","l":"en"},{"x":15,"y":55,"v":"real","l":"en"},{"x":5,"y":53,"v":"real","l":"en"},{"x":8,"y":53,"v":"real","l":"en"},{"x":11,"y":53,"v":"real","l":"en"},{"x":14,"y":53,"v":"real","l":"en"},{"x":17,"y":53,"v":"real","l":"en"},{"x":20,"y":53,"v":"real","l":"en"},{"x":3,"y":51,"v":"real","l":"en"},{"x":5,"y":51,"v":"real","l":"en"},{"x":7,"y":51,"v":"real","l":"en"},{"x":9,"y":51,"v":"real","l":"en"},{"x":11,"y":51,"v":"real","l":"en"},{"x":13,"y":51,"v":"real","l":"en"},{"x":15,"y":51,"v":"real","l":"en"},{"x":17,"y":51,"v":"real","l":"en"},{"x":19,"y":51,"v":"real","l":"en"},{"x":21,"y":51,"v":"real","l":"en"},{"x":1,"y":49,"v":"real","l":"en"},{"x":3,"y":49,"v":"real","l":"en"},{"x":5,"y":49,"v":"real","l":"en"},{"x":7,"y":49,"v":"real","l":"en"},{"x":9,"y":49,"v":"real","l":"en"},{"x":11,"y":49,"v":"real","l":"en"},{"x":13,"y":49,"v":"real","l":"en"},{"x":15,"y":49,"v":"real","l":"en"},{"x":17,"y":49,"v":"real","l":"en"},{"x":19,"y":49,"v":"real","l":"en"},{"x":21,"y":49,"v":"real","l":"en"},{"x":23,"y":49,"v":"real","l":"en"},{"x":1,"y":47,"v":"real","l":"en"},{"x":3,"y":47,"v":"real","l":"en"},{"x":5,"y":47,"v":"real","l":"en"},{"x":7,"y":47,"v":"real","l":"en"},{"x":9,"y":47,"v":"real","l":"en"},{"x":11,"y":47,"v":"real","l":"en"},{"x":13,"y":47,"v":"real","l":"en"},{"x":15,"y":47,"v":"real","l":"en"},{"x":17,"y":47,"v":"real","l":"en"},{"x":19,"y":47,"v":"real","l":"en"},{"x":21,"y":47,"v":"real","l":"en"},{"x":2,"y":45,"v":"real","l":"en"},{"x":5,"y":45,"v":"real","l":"en"},{"x":8,"y":45,"v":"real","l":"en"},{"x":11,"y":45,"v":"real","l":"en"},{"x":14,"y":45,"v":"real","l":"en"},{"x":17,"y":45,"v":"real","l":"en"},{"x":13,"y":43,"v":"real","l":"en"},{"x":16,"y":43,"v":"real","l":"en"},{"x":11,"y":43,"v":"real","l":"en"},
{"x":-5.4,"y":77.5,"v":"real","l":"en"},{"x":-3.5,"y":74.4,"v":"real","l":"en"},{"x":-1.3,"y":75.7,"v":"real","l":"en"},{"x":2.2,"y":74,"v":"real","l":"en"},{"x":5,"y":74,"v":"real","l":"en"},{"x":-10.7,"y":71.9,"v":"real","l":"en"},{"x":-10.1,"y":68.6,"v":"real","l":"en"},{"x":-10.7,"y":66.5,"v":"real","l":"en"},{"x":-8.6,"y":66.4,"v":"real","l":"es"},{"x":-2.1,"y":68,"v":"real","l":"en"},{"x":0.6,"y":66,"v":"real","l":"en"},{"x":4,"y":69.9,"v":"real","l":"en"},{"x":6.4,"y":69,"v":"real","l":"en"},{"x":11.1,"y":71.9,"v":"real","l":"en"},{"x":17.5,"y":69.9,"v":"real","l":"en"},{"x":8.9,"y":68.6,"v":"real","l":"en"},{"x":10.5,"y":66,"v":"real","l":"hi"},{"x":12.5,"y":65,"v":"real","l":"hi"},{"x":16.7,"y":65,"v":"real","l":"hi"},{"x":-5.4,"y":65.3,"v":"real","l":"hi"},{"x":-3,"y":64,"v":"real","l":"pt"},{"x":1.5,"y":63.9,"v":"real","l":"en"},{"x":3.6,"y":62,"v":"real","l":"pt"},{"x":0.3,"y":62,"v":"real","l":"en"},{"x":2.2,"y":60.6,"v":"real","l":"en"},{"x":4.8,"y":59.2,"v":"real","l":"en"},{"x":10.2,"y":65.5,"v":"real","l":"en"},{"x":13,"y":63.7,"v":"real","l":"en"},{"x":16.2,"y":63.2,"v":"real","l":"hi"},{"x":14.9,"y":65.5,"v":"real","l":"en"},{"x":18.6,"y":60,"v":"real","l":"en"},{"x":17.2,"y":58.2,"v":"real","l":"en"},{"x":21.6,"y":59,"v":"real","l":"en"},{"x":17.6,"y":56.5,"v":"real","l":"en"},{"x":-9.7,"y":56.9,"v":"real","l":"en"},{"x":-7.2,"y":59.6,"v":"real","l":"en"},{"x":-6.3,"y":56.9,"v":"real","l":"en"},{"x":-7,"y":55.5,"v":"real","l":"en"},{"x":-1.1,"y":56.5,"v":"real","l":"en"},{"x":7.4,"y":56.5,"v":"real","l":"en"},{"x":-7.5,"y":53,"v":"real","l":"en"},{"x":-4.4,"y":52.5,"v":"real","l":"en"},{"x":-0.2,"y":53.9,"v":"real","l":"en"},{"x":2.6,"y":53.4,"v":"real","l":"en"},{"x":5.9,"y":53.9,"v":"real","l":"en"},{"x":0.3,"y":50.4,"v":"real","l":"en"},{"x":-4,"y":47,"v":"real","l":"en"},{"x":0.3,"y":45.3,"v":"real","l":"en"},{"x":-1.6,"y":46.3,"v":"real","l":"en"},{"x":2.7,"y":42,"v":"real","l":"es"},{"x":10.2,"y":39.2,"v":"real","l":"en"},{"x":12.9,"y":34.8,"v":"real","l":"en"},{"x":17.3,"y":42.7,"v":"fake","l":"en"},{"x":13.5,"y":42.3,"v":"real","l":"en"},{"x":10.5,"y":41,"v":"fake","l":"en"},{"x":21.9,"y":44,"v":"real","l":"en"},{"x":24.3,"y":43.2,"v":"real","l":"en"},{"x":22.4,"y":41,"v":"real","l":"en"},{"x":24,"y":46,"v":"real","l":"en"},{"x":26.6,"y":44.1,"v":"real","l":"hi"},{"x":21,"y":38.8,"v":"real","l":"hi"},{"x":24.9,"y":38.8,"v":"real","l":"en"},{"x":39.8,"y":41.3,"v":"real","l":"hi"},{"x":42,"y":38,"v":"real","l":"hi"},{"x":26.3,"y":60.6,"v":"real","l":"hi"},{"x":43.5,"y":59,"v":"real","l":"hi"},{"x":43.5,"y":56.6,"v":"real","l":"hi"},{"x":46,"y":57.2,"v":"real","l":"es"},{"x":47.3,"y":55,"v":"real","l":"en"},{"x":49.2,"y":54,"v":"real","l":"hi"},{"x":51.5,"y":53,"v":"real","l":"hi"},{"x":43.3,"y":53,"v":"real","l":"it"},{"x":47.3,"y":51.5,"v":"real","l":"es"},{"x":51,"y":51.3,"v":"real","l":"en"},{"x":49.6,"y":49.8,"v":"real","l":"es"},{"x":58,"y":46,"v":"real","l":"hi"},{"x":56,"y":42.4,"v":"real","l":"hi"},{"x":68.7,"y":32.2,"v":"real","l":"hi"},{"x":51,"y":46,"v":"real","l":"hi"},{"x":53,"y":47,"v":"real","l":"hi"},{"x":55,"y":46,"v":"real","l":"hi"},{"x":50.5,"y":44,"v":"real","l":"hi"},{"x":52.5,"y":44.5,"v":"real","l":"hi"},{"x":54.5,"y":44.5,"v":"real","l":"hi"},{"x":56,"y":47.5,"v":"real","l":"en"},{"x":34.3,"y":47.8,"v":"real","l":"es"},{"x":36,"y":46,"v":"real","l":"en"},{"x":35.5,"y":44,"v":"real","l":"en"},{"x":36.5,"y":42.8,"v":"real","l":"en"},{"x":59.3,"y":31.3,"v":"real","l":"it"},{"x":61.4,"y":25.9,"v":"real","l":"es"},{"x":57,"y":27,"v":"real","l":"pt"},{"x":59,"y":27,"v":"real","l":"pt"},{"x":58,"y":28.2,"v":"real","l":"pt"},{"x":58,"y":25.8,"v":"real","l":"pt"},
{"x":28,"y":40,"v":"real","l":"en"},{"x":28,"y":38,"v":"real","l":"en"},{"x":28,"y":36,"v":"real","l":"en"},{"x":30,"y":41,"v":"real","l":"en"},{"x":30,"y":39,"v":"real","l":"en"},{"x":30,"y":37,"v":"real","l":"en"},{"x":30,"y":35,"v":"real","l":"en"},{"x":30,"y":33,"v":"real","l":"en"},{"x":32,"y":40,"v":"real","l":"en"},{"x":32,"y":38,"v":"real","l":"en"},{"x":32,"y":36,"v":"real","l":"en"},{"x":32,"y":34,"v":"real","l":"en"},{"x":32,"y":32,"v":"real","l":"en"},{"x":32,"y":30,"v":"real","l":"en"},{"x":34,"y":39,"v":"real","l":"en"},{"x":34,"y":37,"v":"real","l":"en"},{"x":34,"y":35,"v":"real","l":"en"},{"x":34,"y":33,"v":"real","l":"en"},{"x":34,"y":31,"v":"real","l":"en"},{"x":34,"y":29,"v":"real","l":"en"},{"x":36,"y":38,"v":"real","l":"en"},{"x":36,"y":36,"v":"real","l":"en"},{"x":36,"y":34,"v":"real","l":"en"},{"x":36,"y":32,"v":"real","l":"en"},{"x":36,"y":30,"v":"real","l":"en"},{"x":36,"y":28,"v":"real","l":"en"},{"x":38,"y":37,"v":"real","l":"en"},{"x":38,"y":35,"v":"real","l":"en"},{"x":38,"y":33,"v":"real","l":"en"},{"x":38,"y":31,"v":"real","l":"en"},{"x":38,"y":29,"v":"real","l":"en"},{"x":38,"y":27,"v":"real","l":"en"},{"x":40,"y":35,"v":"real","l":"en"},{"x":40,"y":33,"v":"real","l":"en"},{"x":40,"y":31,"v":"real","l":"en"},{"x":40,"y":29,"v":"real","l":"en"},{"x":42,"y":34,"v":"real","l":"en"},{"x":42,"y":32,"v":"real","l":"en"},{"x":42,"y":30,"v":"real","l":"en"},{"x":42,"y":28,"v":"real","l":"en"},{"x":44,"y":33,"v":"real","l":"en"},{"x":44,"y":31,"v":"real","l":"en"},{"x":44,"y":29,"v":"real","l":"en"},{"x":44,"y":27,"v":"real","l":"en"},{"x":46,"y":32,"v":"real","l":"en"},{"x":46,"y":30,"v":"real","l":"en"},{"x":46,"y":28,"v":"real","l":"en"},{"x":48,"y":31,"v":"real","l":"en"},{"x":48,"y":29,"v":"real","l":"en"},{"x":48,"y":27,"v":"real","l":"en"},{"x":50,"y":29,"v":"real","l":"en"},{"x":50,"y":27,"v":"real","l":"en"},{"x":50,"y":25,"v":"real","l":"en"},{"x":52,"y":28,"v":"real","l":"en"},{"x":52,"y":26,"v":"real","l":"en"},{"x":52,"y":25,"v":"real","l":"en"},{"x":54,"y":27,"v":"real","l":"en"},{"x":54,"y":26,"v":"real","l":"en"},{"x":36,"y":26.2,"v":"real","l":"en"},{"x":41.2,"y":26.6,"v":"real","l":"en"},{"x":42.3,"y":23,"v":"real","l":"hi"},{"x":38.6,"y":22,"v":"real","l":"hi"},{"x":46.3,"y":23.6,"v":"real","l":"en"},{"x":53.8,"y":24.5,"v":"real","l":"en"},{"x":54.3,"y":27.6,"v":"real","l":"en"},{"x":25.5,"y":33,"v":"real","l":"hi"},{"x":25,"y":28.5,"v":"real","l":"es"},{"x":28,"y":29,"v":"real","l":"hi"},{"x":30,"y":28.5,"v":"real","l":"hi"},
{"x":21,"y":10.8,"v":"real","l":"en"},{"x":25.2,"y":11.4,"v":"real","l":"hi"},{"x":27.5,"y":14.6,"v":"real","l":"hi"},{"x":29.4,"y":14.6,"v":"real","l":"hi"},{"x":26,"y":13,"v":"real","l":"hi"},{"x":34.1,"y":14.2,"v":"real","l":"hi"},{"x":32.5,"y":10.8,"v":"real","l":"hi"},{"x":29.7,"y":3.9,"v":"real","l":"hi"},{"x":24,"y":-1.4,"v":"real","l":"hi"},{"x":36.5,"y":20.8,"v":"real","l":"en"},{"x":21.6,"y":13.7,"v":"real","l":"en"},{"x":20.2,"y":16.4,"v":"real","l":"en"},{"x":19.4,"y":19.5,"v":"real","l":"en"},{"x":25.2,"y":22,"v":"real","l":"en"},{"x":26.6,"y":23.5,"v":"real","l":"en"},{"x":29.9,"y":18.4,"v":"real","l":"en"},{"x":33.4,"y":18.6,"v":"real","l":"en"},{"x":27.5,"y":16.4,"v":"real","l":"en"},{"x":27,"y":7.6,"v":"real","l":"en"},{"x":18.1,"y":1.5,"v":"real","l":"en"},{"x":32.7,"y":1,"v":"real","l":"es"},{"x":35,"y":1,"v":"real","l":"en"},{"x":37,"y":1,"v":"real","l":"en"},{"x":36,"y":3,"v":"real","l":"hi"},{"x":38,"y":2,"v":"real","l":"en"},{"x":37,"y":4,"v":"real","l":"en"},{"x":38,"y":5,"v":"real","l":"en"},{"x":39,"y":1,"v":"real","l":"en"},{"x":34.6,"y":14.7,"v":"real","l":"en"},{"x":2.7,"y":21.3,"v":"real","l":"en"},{"x":3.5,"y":20.5,"v":"real","l":"en"},{"x":8.3,"y":21.2,"v":"real","l":"en"},{"x":41,"y":17,"v":"real","l":"en"},{"x":43.7,"y":17,"v":"real","l":"en"},{"x":41.6,"y":11.4,"v":"real","l":"en"},
{"x":49.4,"y":-12.7,"v":"real","l":"hi"},{"x":48.7,"y":-16.3,"v":"real","l":"hi"},{"x":50.6,"y":-18.8,"v":"real","l":"hi"},{"x":51.8,"y":-27.9,"v":"real","l":"hi"},{"x":58.4,"y":-31.3,"v":"real","l":"hi"},{"x":50,"y":-20.5,"v":"real","l":"es"},{"x":43,"y":-14,"v":"real","l":"en"},{"x":44,"y":-15,"v":"real","l":"en"},{"x":45,"y":-14,"v":"real","l":"en"},{"x":46,"y":-15.5,"v":"real","l":"en"},{"x":44.5,"y":-13.5,"v":"real","l":"en"},{"x":43,"y":-15.5,"v":"real","l":"en"},{"x":46.3,"y":-13,"v":"real","l":"en"},{"x":44.5,"y":-20,"v":"real","l":"en"},{"x":45,"y":-21.5,"v":"real","l":"en"},{"x":44,"y":-21,"v":"real","l":"en"},{"x":47.5,"y":-19,"v":"real","l":"en"},
{"x":-25,"y":55,"v":"real","l":"en"},{"x":-24,"y":57,"v":"real","l":"en"},{"x":-23,"y":58,"v":"real","l":"en"},{"x":-21,"y":59,"v":"real","l":"hi"},{"x":-19,"y":58,"v":"real","l":"en"},{"x":-24,"y":54,"v":"real","l":"en"},{"x":-22,"y":56,"v":"real","l":"en"},{"x":-20,"y":56,"v":"real","l":"en"},{"x":-18,"y":55,"v":"real","l":"en"},{"x":-23,"y":53,"v":"real","l":"en"},{"x":-21,"y":53,"v":"real","l":"en"},{"x":-19,"y":53,"v":"real","l":"en"},{"x":-21,"y":51,"v":"real","l":"en"},{"x":-19,"y":51.5,"v":"real","l":"en"},{"x":-25,"y":53,"v":"real","l":"en"},{"x":-22,"y":51,"v":"real","l":"en"},{"x":-20,"y":54,"v":"real","l":"en"},{"x":-22,"y":54,"v":"real","l":"en"},{"x":-15.8,"y":57.5,"v":"real","l":"en"},{"x":-9.9,"y":57,"v":"real","l":"en"},{"x":-15.2,"y":54.3,"v":"real","l":"en"},{"x":-14,"y":54,"v":"real","l":"en"},{"x":-16.6,"y":51.6,"v":"real","l":"en"},{"x":-13,"y":51.4,"v":"real","l":"en"},
{"x":-63,"y":50.5,"v":"real","l":"es"},{"x":-54.7,"y":48,"v":"real","l":"es"},{"x":-53.6,"y":44.5,"v":"real","l":"es"},{"x":-64,"y":42.5,"v":"real","l":"es"},{"x":-62,"y":41,"v":"real","l":"es"},{"x":-60,"y":41,"v":"real","l":"es"},{"x":-58,"y":41,"v":"real","l":"es"},{"x":-56,"y":41,"v":"real","l":"es"},{"x":-62,"y":39,"v":"real","l":"es"},{"x":-60,"y":39,"v":"real","l":"es"},{"x":-58,"y":39,"v":"real","l":"es"},{"x":-56.5,"y":39,"v":"real","l":"es"},{"x":-59,"y":37,"v":"real","l":"es"},{"x":-58,"y":36,"v":"real","l":"es"},{"x":-59.5,"y":32.5,"v":"real","l":"es"},{"x":-57.5,"y":28,"v":"real","l":"es"},{"x":-58,"y":26,"v":"real","l":"es"},{"x":-58.6,"y":24,"v":"real","l":"es"},{"x":-62.6,"y":22.5,"v":"real","l":"es"},{"x":-61,"y":21,"v":"real","l":"es"},{"x":-52.4,"y":21.5,"v":"real","l":"es"},{"x":-57.8,"y":19,"v":"real","l":"es"},{"x":-58.7,"y":17.4,"v":"real","l":"es"},{"x":-53.6,"y":17,"v":"real","l":"es"},{"x":-58.6,"y":12.5,"v":"real","l":"es"},{"x":-44,"y":20.6,"v":"real","l":"es"},{"x":-45.7,"y":18,"v":"real","l":"es"},{"x":-68.5,"y":8.5,"v":"real","l":"es"},{"x":-57,"y":5.5,"v":"real","l":"es"},{"x":-53,"y":-4,"v":"real","l":"es"},{"x":-46,"y":-3,"v":"real","l":"en"},{"x":-45,"y":34,"v":"real","l":"es"},
{"x":-40,"y":21,"v":"real","l":"es"},{"x":-38,"y":21,"v":"real","l":"es"},{"x":-36,"y":21,"v":"real","l":"es"},{"x":-34,"y":20,"v":"real","l":"es"},{"x":-38,"y":19.5,"v":"real","l":"es"},{"x":-36,"y":19.5,"v":"real","l":"es"},{"x":-33,"y":19,"v":"real","l":"es"},{"x":-37,"y":18,"v":"real","l":"es"},{"x":-35,"y":18,"v":"real","l":"es"},{"x":-33,"y":17.5,"v":"real","l":"es"},{"x":-36,"y":16.5,"v":"real","l":"es"},{"x":-34,"y":16,"v":"real","l":"es"},{"x":-32.7,"y":1.7,"v":"real","l":"hi"},
{"x":-54.7,"y":-14.4,"v":"real","l":"pt"},{"x":-43,"y":-14,"v":"real","l":"pt"},{"x":-44,"y":-15,"v":"real","l":"pt"},{"x":-42,"y":-14,"v":"real","l":"pt"},{"x":-45,"y":-16,"v":"real","l":"pt"},{"x":-43,"y":-16,"v":"real","l":"pt"},{"x":-46,"y":-17,"v":"real","l":"pt"},{"x":-44,"y":-18,"v":"real","l":"pt"},{"x":-48,"y":-17,"v":"real","l":"pt"},{"x":-46,"y":-19,"v":"real","l":"pt"},{"x":-45,"y":-21,"v":"real","l":"pt"},{"x":-44,"y":-20,"v":"real","l":"pt"},{"x":-47,"y":-18,"v":"real","l":"pt"},{"x":-46,"y":-15,"v":"real","l":"pt"},{"x":-44,"y":-22,"v":"real","l":"pt"},{"x":-45,"y":-22.5,"v":"real","l":"pt"},{"x":-53.3,"y":-50.1,"v":"real","l":"pt"},
{"x":-21.4,"y":-71,"v":"real","l":"it"},{"x":-29,"y":-75,"v":"real","l":"it"},{"x":-6.8,"y":-48.3,"v":"real","l":"it"},{"x":-6.8,"y":-51,"v":"real","l":"it"},{"x":-8,"y":-51.5,"v":"real","l":"it"},{"x":-9.6,"y":-52,"v":"real","l":"it"},{"x":-5.8,"y":-51,"v":"real","l":"it"},{"x":-7.7,"y":-50.5,"v":"real","l":"it"},{"x":-3.9,"y":-53.9,"v":"real","l":"it"},{"x":-8.2,"y":-55.4,"v":"real","l":"it"},{"x":-9,"y":-56,"v":"real","l":"it"},{"x":-10,"y":-57.8,"v":"real","l":"it"},{"x":-3.4,"y":-62,"v":"real","l":"it"},{"x":2,"y":-60.3,"v":"real","l":"it"},
{"x":15.3,"y":-39.4,"v":"real","l":"pt"},{"x":24.3,"y":-40.5,"v":"real","l":"pt"},{"x":22.9,"y":-41.6,"v":"real","l":"pt"},{"x":21.4,"y":-42.9,"v":"real","l":"pt"},{"x":19.6,"y":-43.8,"v":"real","l":"pt"},{"x":21.4,"y":-44.7,"v":"real","l":"pt"},{"x":23.3,"y":-44.3,"v":"real","l":"pt"},{"x":21.9,"y":-45.8,"v":"real","l":"pt"},{"x":26.1,"y":-51,"v":"real","l":"it"},{"x":28,"y":-49.6,"v":"real","l":"it"},{"x":29.4,"y":-50,"v":"real","l":"it"},{"x":30.8,"y":-51,"v":"real","l":"it"},{"x":27,"y":-52.3,"v":"real","l":"it"},{"x":28.9,"y":-51.8,"v":"real","l":"it"},{"x":25.6,"y":-52,"v":"real","l":"it"},{"x":27,"y":-50,"v":"real","l":"it"},
{"x":46.3,"y":-64,"v":"real","l":"en"},{"x":45.9,"y":-66.7,"v":"real","l":"es"},{"x":49,"y":-45.3,"v":"real","l":"en"},{"x":48.6,"y":-47,"v":"real","l":"en"},{"x":-10,"y":-7,"v":"real","l":"hi"},{"x":-9,"y":-8,"v":"real","l":"hi"},{"x":-10,"y":-9,"v":"real","l":"hi"},{"x":-8.5,"y":-7.5,"v":"real","l":"hi"},{"x":-9,"y":-6.5,"v":"real","l":"hi"},{"x":-5.2,"y":-11.2,"v":"real","l":"es"},{"x":-0.2,"y":-10,"v":"real","l":"fr"},{"x":2.5,"y":-8.3,"v":"real","l":"en"},{"x":-0.9,"y":-12,"v":"real","l":"en"},{"x":-5.6,"y":-16.3,"v":"real","l":"hi"},{"x":-3.7,"y":-20.6,"v":"real","l":"pt"},{"x":-3,"y":-22,"v":"real","l":"pt"},{"x":18.1,"y":-20.6,"v":"real","l":"en"},{"x":19,"y":-20.5,"v":"real","l":"en"},{"x":22,"y":-20,"v":"real","l":"hi"},{"x":20.5,"y":-21,"v":"real","l":"hi"},{"x":22.9,"y":-18.8,"v":"real","l":"hi"},{"x":23.4,"y":-20.6,"v":"real","l":"hi"},{"x":18.1,"y":-23.3,"v":"real","l":"fr"},{"x":20.5,"y":-23.3,"v":"real","l":"hi"}
]},
"mark":{"type":"point","filled":true,"opacity":1,"size":100,"strokeWidth":0},
"encoding":{
"x":{"field":"x","type":"quantitative","scale":{"domain":[-89.6,96.1],"nice":false,"zero":false},"axis":{"title":null,"values":[-75,-50,-25,0,25,50,75],"grid":true,"gridColor":"white","gridWidth":1.5,"domain":false,"ticks":false,"labelFontSize":16,"labelColor":"#262626","labelPadding":11,"zindex":0}},
"y":{"field":"y","type":"quantitative","scale":{"domain":[-90,85],"nice":false,"zero":false},"axis":{"title":null,"values":[-80,-60,-40,-20,0,20,40,60,80],"grid":true,"gridColor":"white","gridWidth":1.5,"domain":false,"ticks":false,"labelFontSize":16,"labelColor":"#262626","labelPadding":9,"zindex":0}},
"color":{"field":"v","type":"nominal","scale":{"domain":["real","fake"],"range":["#4c72b0","#c44e52"]},"legend":{"title":"Veracity","orient":"none","legendX":668,"legendY":12,"symbolType":"square","symbolSize":64,"titleFontSize":13,"titleFontWeight":"normal","titleColor":"#262626","labelFontSize":16,"labelColor":"#262626","fillColor":"#eaeaf2","strokeColor":"#cccccc","cornerRadius":3,"padding":7,"rowPadding":8,"labelOffset":24,"symbolOffset":9,"titleAnchor":"middle","titlePadding":8}},
"shape":{"field":"l","type":"nominal","scale":{"domain":["en","es","pt","hi","fr","it"],"range":["M-0.67,-1L0,-0.33L0.67,-1L1,-0.67L0.33,0L1,0.67L0.67,1L0,0.33L-0.67,1L-1,0.67L-0.33,0L-1,-0.67Z","M-1,-0.85L1,-0.85L0,0.95Z","circle","square","M0,-1L0.95,-0.31L0.59,0.81L-0.59,0.81L-0.95,-0.31Z","M-0.36,-1H0.36V-0.36H1V0.36H0.36V1H-0.36V0.36H-1V-0.36H-0.36Z"]},"legend":{"title":"Language","orient":"none","legendX":666,"legendY":119,"symbolSize":64,"symbolFillColor":"#000000","symbolStrokeColor":"#000000","symbolStrokeWidth":0,"titleFontSize":12.5,"titleFontWeight":"normal","titleColor":"#262626","labelFontSize":16,"labelColor":"#262626","fillColor":"#eaeaf2","strokeColor":"#cccccc","cornerRadius":3,"padding":7,"rowPadding":7,"labelOffset":23,"symbolOffset":11,"titleAnchor":"middle","titlePadding":10}}
}}
